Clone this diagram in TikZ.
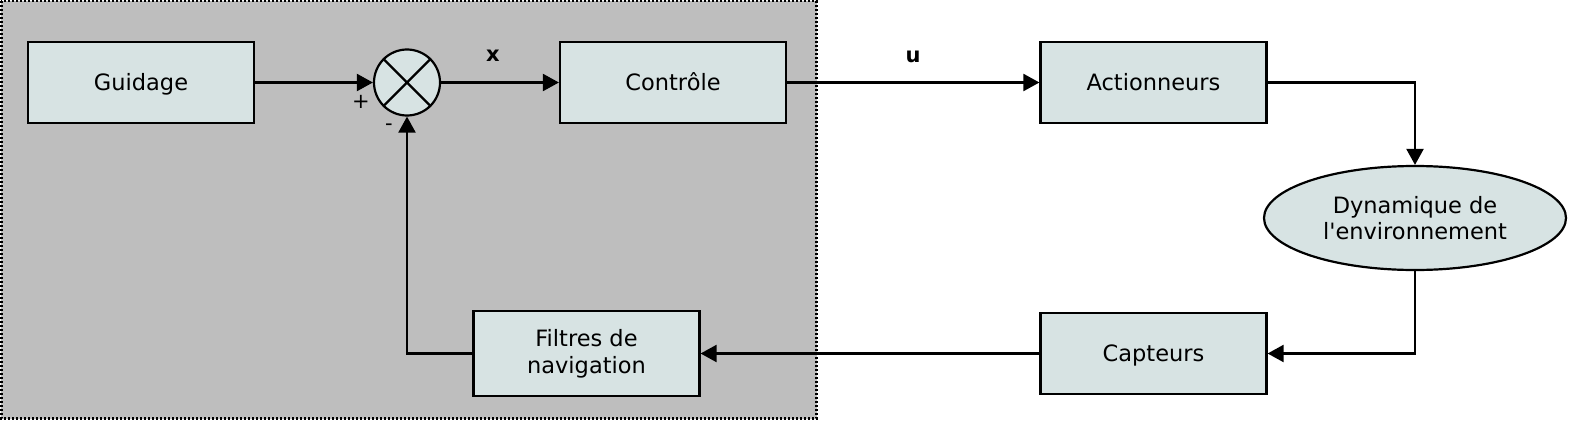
\documentclass[tikz,border=0pt]{standalone}
\usepackage{fontspec}
\setmainfont{DejaVu Sans}[Ligatures=TeXOff]
\usetikzlibrary{arrows.meta,positioning,shapes.geometric}
\definecolor{BoxFill}{RGB}{215,227,227}
\definecolor{ZoneGray}{RGB}{190,190,190}
\tikzset{
  block/.style={draw=black,fill=BoxFill,line width=2.2pt,minimum width=226,
    minimum height=81,align=center,font=\fontsize{22.5}{27}\selectfont},
  oneline/.style={text height=21,text depth=6},
  envnode/.style={ellipse,draw=black,fill=BoxFill,line width=2.2pt,minimum width=302,
    minimum height=104,align=center,inner sep=0pt,font=\fontsize{22.5}{26}\selectfont},
  sumnode/.style={circle,draw=black,fill=BoxFill,line width=2.2pt,minimum size=66,inner sep=0pt},
  signal/.style={font=\fontsize{21}{24}\selectfont\bfseries},
  sign/.style={font=\fontsize{21}{24}\selectfont},
  arrow/.style={-{Triangle[length=16pt,width=17pt]},line width=2.2pt}
}
\begin{document}
\begin{tikzpicture}[x=1pt,y=-1pt]
  \useasboundingbox (0,0) rectangle (1570,420);
  % embedded part
  \draw[fill=ZoneGray,line width=2.5pt,dash pattern=on 2pt off 2pt] (1.25,1.25) rectangle (816.5,418.5);
  \node[block,oneline] (guidage) at (141,82.5) {Guidage};
  \node[sumnode] (sum) at (407,82.5) {};
  \draw[line width=2.2pt] (sum.45) -- (sum.225) (sum.135) -- (sum.-45);
  \node[block,oneline] (controle) at (673,82.5) {Contrôle};
  \node[block,minimum height=85] (filtres) at (586.5,353.5) {Filtres de\\navigation};
  % plant
  \node[block,oneline] (actionneurs) at (1153.5,82.5) {Actionneurs};
  \node[envnode] (env) at (1415,218) {Dynamique de\\l'environnement};
  \node[block,oneline] (capteurs) at (1153.5,353.5) {Capteurs};
  % signals
  \node[signal] (xlab) at (493,56) {x};
  \node[signal] (ulab) at (913,57) {u};
  \node[sign] (plus) at (361,102) {+};
  \node[sign] (minus) at (389,127) {-};
  \draw[arrow] (guidage) -- (sum);
  \draw[arrow] (sum) -- (controle);
  \draw[arrow] (controle) -- (actionneurs);
  \draw[arrow] (actionneurs.east) -| (env.north);
  \draw[arrow] (env.south) |- (capteurs.east);
  \draw[arrow] (capteurs) -- (filtres);
  \draw[arrow] (filtres.west) -| (sum.south);
\end{tikzpicture}
\end{document}
